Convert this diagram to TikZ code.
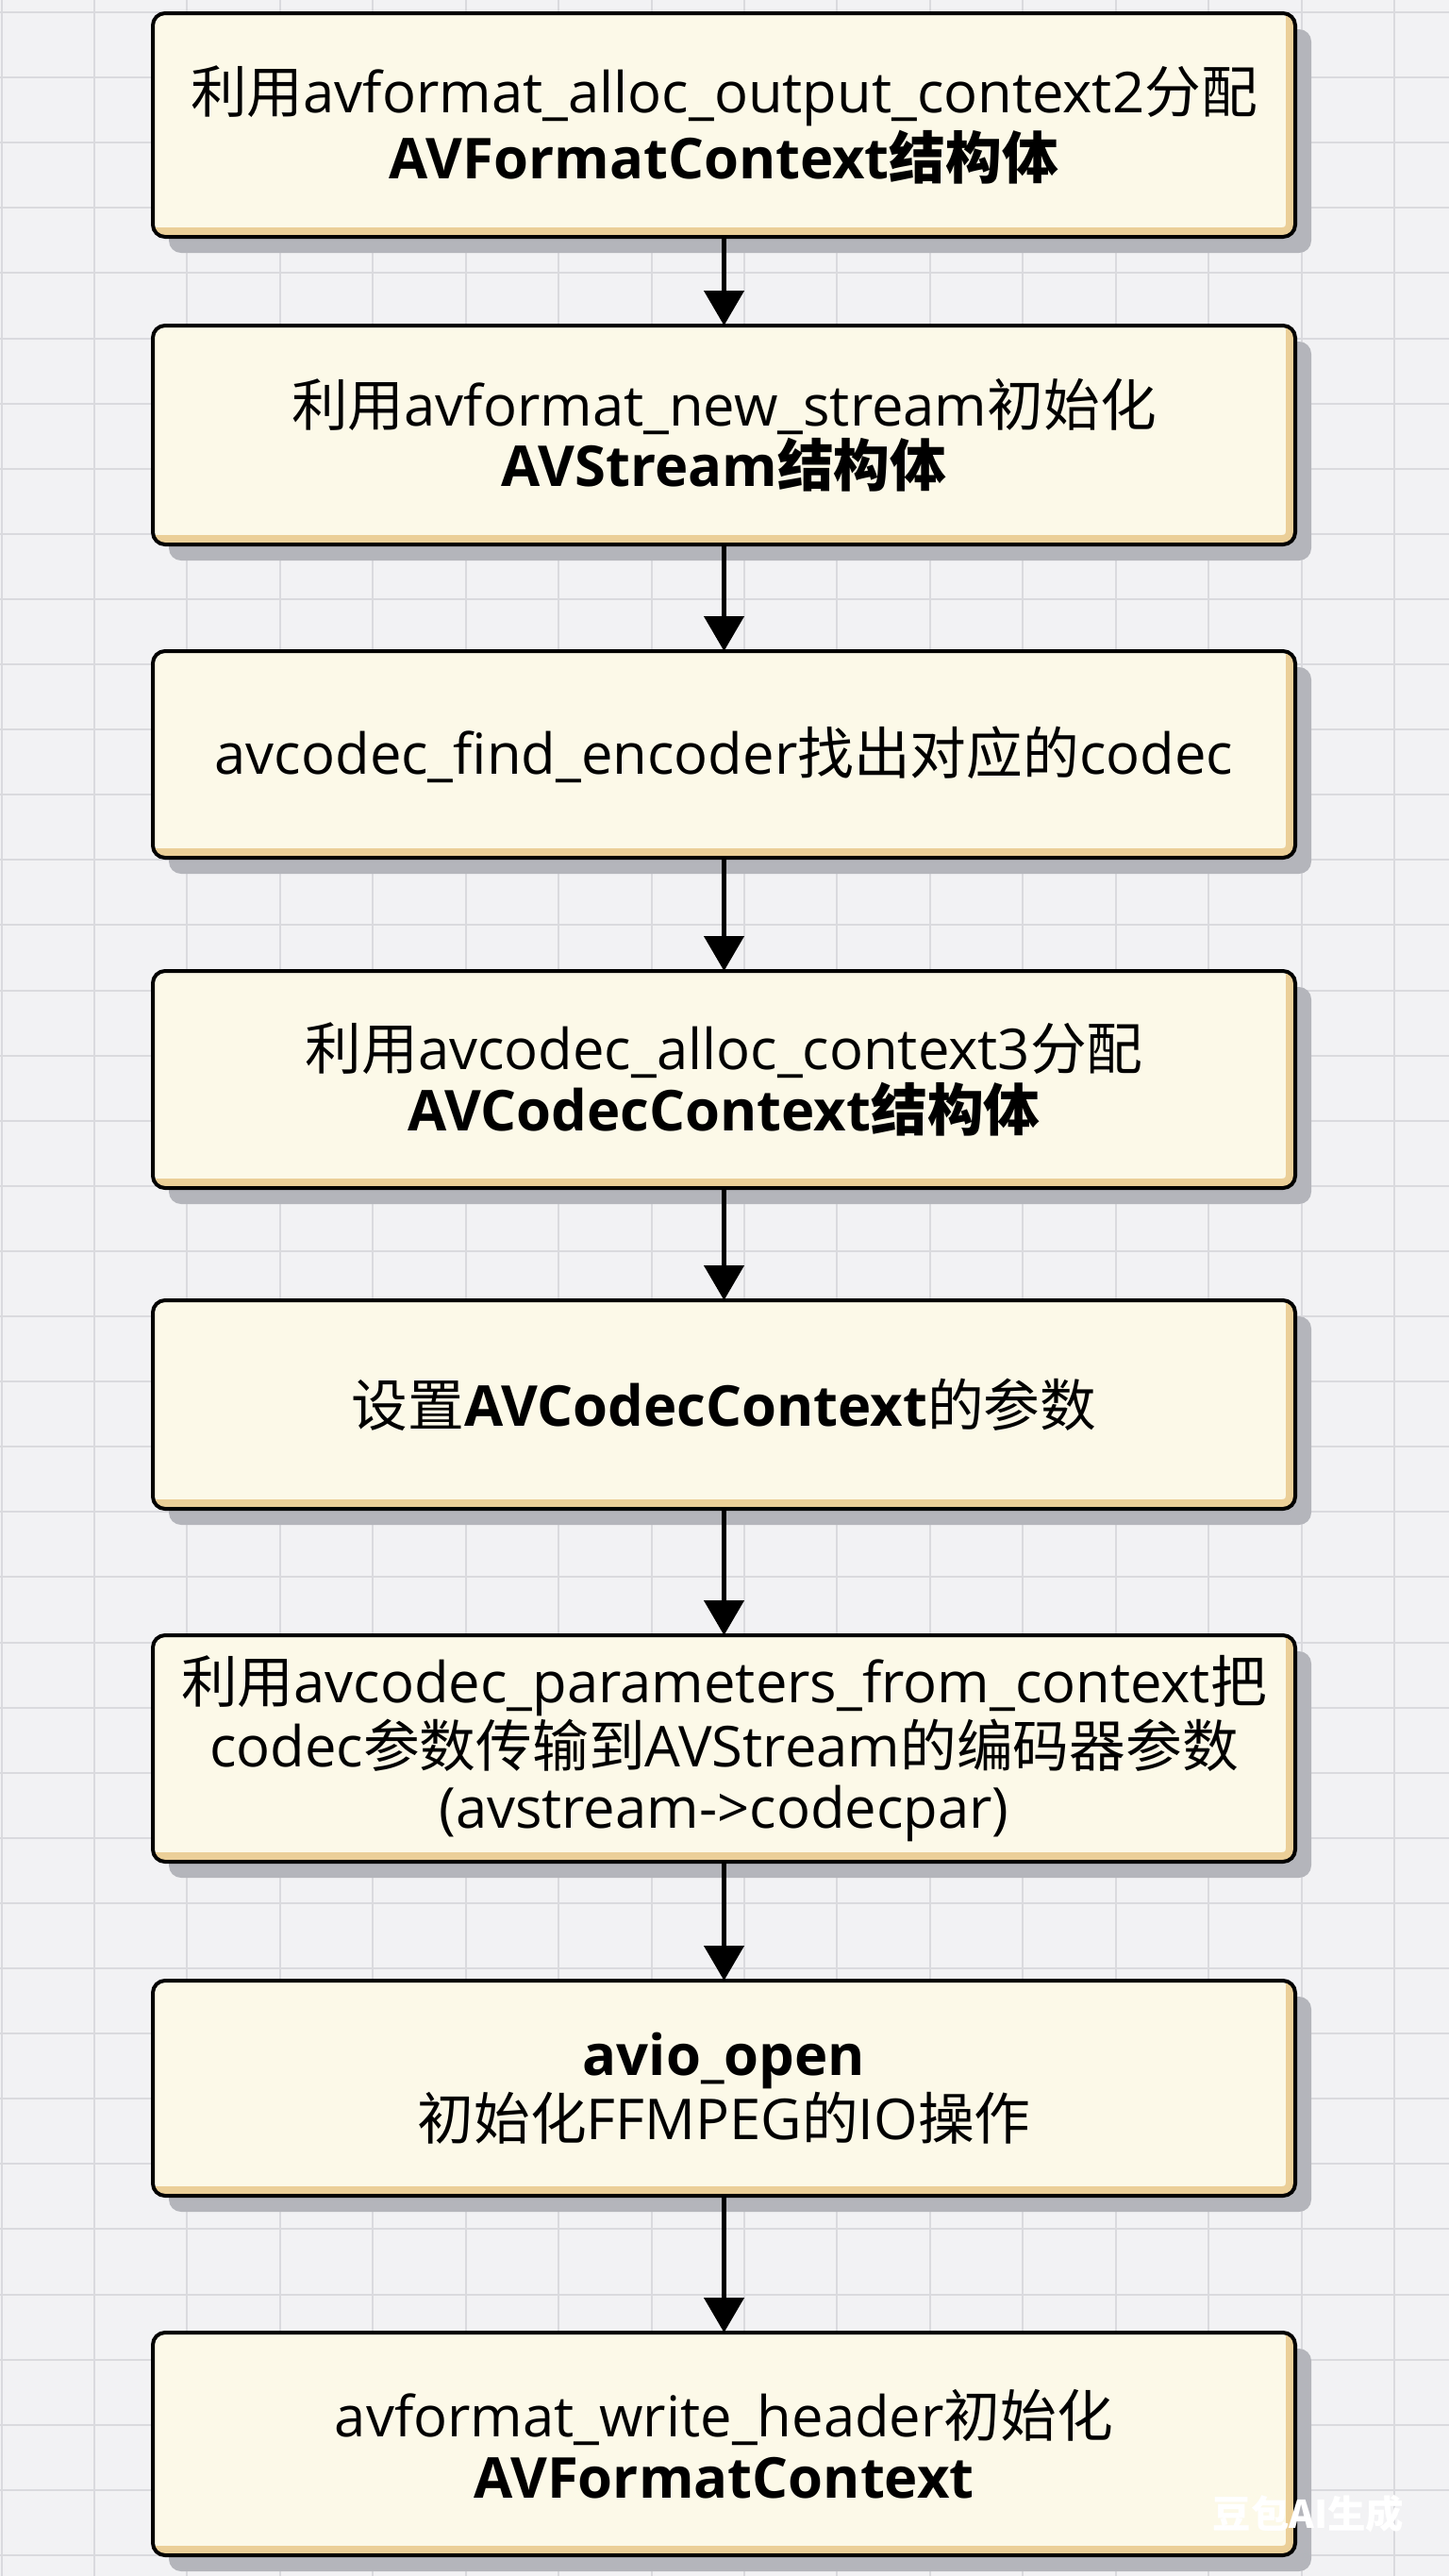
\documentclass[tikz,border=0pt]{standalone}
\usepackage{fontspec}
\setmainfont{Open Sans}
\newfontfamily\cjkfont{Noto Sans CJK SC}
\newcommand{\zh}[1]{{\cjkfont #1}}
\usepackage{xcolor}
\definecolor{BgGray}{HTML}{F2F2F4}
\definecolor{GridGray}{HTML}{DADADE}
\definecolor{BoxCream}{HTML}{FCF9E8}
\definecolor{GoldRim}{HTML}{EBCF98}
\definecolor{ShadowGray}{HTML}{B4B5BB}
\usepackage{tikz}
\usetikzlibrary{arrows.meta, positioning, shadows}
\tikzset{
  stage node/.style={
    rectangle, rounded corners=0.13cm, minimum width=12.11cm, minimum height=#1,
    align=center, inner sep=0pt, outer sep=0pt,
    draw=black, line width=0.04cm, fill=BoxCream, text=black,
    font=\fontsize{17}{18.3}\selectfont,
    drop shadow={shadow xshift=0.17cm, shadow yshift=-0.17cm, fill=ShadowGray, opacity=1},
    path picture={
      \draw[GoldRim, line width=0.2cm]
        (path picture bounding box.south west) -- (path picture bounding box.south east)
        -- (path picture bounding box.north east);
    }
  },
  arrow/.style={-{Triangle[length=0.37cm, width=0.42cm]}, line width=0.045cm, color=black},
  grid line/.style={draw=GridGray, line width=0.02cm},
  watermark/.style={text=white, font=\bfseries\fontsize{11.5}{12}\selectfont, inner sep=0pt},
}

\begin{document}
\begin{tikzpicture}

  % ── Canvas + grid paper ───────────────────────────────────────────────────
  \useasboundingbox (0,0) rectangle (15.36,-27.30);
  \fill[BgGray] (0,0) rectangle (15.36,-27.30);
  \begin{scope}
    \clip (0,0) rectangle (15.36,-27.30);
    \draw[grid line, xstep=0.9843, ystep=0.691, shift={(0.0157,-0.13)}] (-1,-28) grid (16,1);
  \end{scope}

  % ── Muxer setup steps ─────────────────────────────────────────────────────
  \node[stage node=2.37cm] (alloc) at (7.675,-1.325)
    {\zh{利用}avformat\_alloc\_output\_context2\zh{分配}\\
     \textbf{AVFormatContext\zh{结构体}}};
  \node[stage node=2.32cm, below=0.94cm of alloc] (newstream)
    {\zh{利用}avformat\_new\_stream\zh{初始化}\\
     \textbf{AVStream\zh{结构体}}};
  \node[stage node=2.19cm, below=1.13cm of newstream] (findenc)
    {avcodec\_find\_encoder\zh{找出对应的}codec};
  \node[stage node=2.30cm, below=1.20cm of findenc] (codecctx)
    {\zh{利用}avcodec\_alloc\_context3\zh{分配}\\
     \textbf{AVCodecContext\zh{结构体}}};
  \node[stage node=2.21cm, below=1.19cm of codecctx] (setparams)
    {\zh{设置}\textbf{AVCodecContext}\zh{的参数}};
  \node[stage node=2.40cm, below=1.34cm of setparams] (copypar)
    {\zh{利用}avcodec\_parameters\_from\_context\zh{把}\\
     codec\zh{参数传输到}AVStream\zh{的编码器参数}\\
     (avstream->codecpar)};
  \node[stage node=2.28cm, below=1.26cm of copypar] (avioopen)
    {\textbf{avio\_open}\\
     \zh{初始化}FFMPEG\zh{的}IO\zh{操作}};
  \node[stage node=2.36cm, below=1.45cm of avioopen] (writehdr)
    {avformat\_write\_header\zh{初始化}\\
     \textbf{AVFormatContext}};

  % ── Watermark ─────────────────────────────────────────────────────────────
  \node[watermark] (mark) at (13.87,-26.64) {\zh{豆包AI生成}};

  % ── Arrows ────────────────────────────────────────────────────────────────
  \draw[arrow] (alloc.south)     -- (newstream.north);
  \draw[arrow] (newstream.south) -- (findenc.north);
  \draw[arrow] (findenc.south)   -- (codecctx.north);
  \draw[arrow] (codecctx.south)  -- (setparams.north);
  \draw[arrow] (setparams.south) -- (copypar.north);
  \draw[arrow] (copypar.south)   -- (avioopen.north);
  \draw[arrow] (avioopen.south)  -- (writehdr.north);

\end{tikzpicture}
\end{document}
